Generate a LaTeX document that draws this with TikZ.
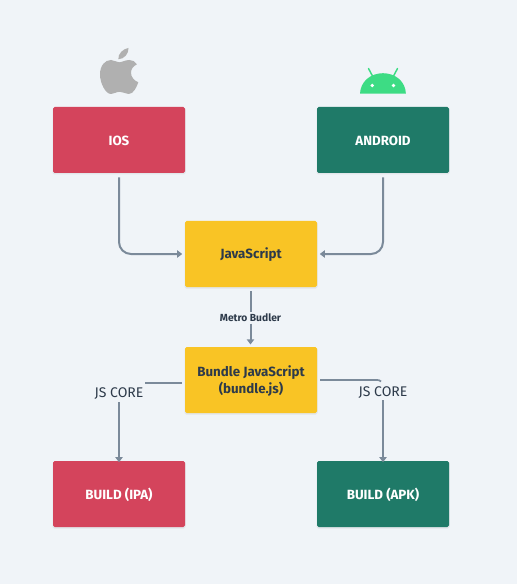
\documentclass[tikz,border=0pt]{standalone}
\usepackage{fontspec}
\setmainfont{Fira Sans}
\usetikzlibrary{arrows.meta,calc}
\definecolor{bgc}{HTML}{F0F4F8}
\definecolor{redc}{HTML}{D4445C}
\definecolor{greenc}{HTML}{1F7A68}
\definecolor{yellowc}{HTML}{F9C425}
\definecolor{inkc}{HTML}{2D3A4A}
\definecolor{linec}{HTML}{7B8A9A}
\definecolor{applec}{HTML}{B0B0B0}
\definecolor{droidc}{HTML}{3DDC84}
\definecolor{shadowc}{HTML}{E2E6EA}
\tikzset{
  flowbox/.style={minimum width=99pt,minimum height=49.5pt,inner sep=0pt,rounded corners=1.2pt},
  boxtext/.style={inner sep=0pt,align=center,yshift=-0.8pt,font=\fontsize{10}{13}\selectfont\bfseries},
  whitetext/.style={boxtext,text=white},
  inktext/.style={boxtext,text=inkc},
  redbox/.style={flowbox,fill=redc,label={[whitetext]center:#1}},
  greenbox/.style={flowbox,fill=greenc,label={[whitetext]center:#1}},
  yellowbox/.style={flowbox,fill=yellowc,label={[inktext]center:#1}},
  flow/.style={draw=linec,line width=1.5pt},
  flowtip/.style={flow,-{Triangle[length=3.8pt,width=5.4pt]}},
  corelabel/.style={font=\fontsize{10.5}{12}\selectfont,text=inkc,inner sep=0pt},
  metrolabel/.style={font=\fontsize{7.7}{9}\selectfont\bfseries,text=inkc,fill=bgc,inner sep=1pt},
  halo/.style={fill=shadowc,draw=none,rounded corners=1.2pt}
}
\begin{document}
\begin{tikzpicture}[x=0.75pt,y=-0.75pt]
\useasboundingbox[fill=bgc] (0,0) rectangle (517,584);
% soft box shadows
\foreach \xa/\ya in {53/107,317/107,185/221,185/347,53/461,317/461}
  \fill[halo] (\xa-0.5,\ya+1) rectangle (\xa+132.5,\ya+67.5);
% boxes
\node[redbox={IOS}]       (ios)     at (119,140) {};
\node[greenbox={ANDROID}] (android) at (383,140) {};
\node[yellowbox={JavaScript}] (js)  at (251,254) {};
\node[yellowbox={Bundle JavaScript\\(bundle.js)}] (bundle) at (251,380) {};
\node[redbox={BUILD (IPA)}]   (ipa) at (119,494) {};
\node[greenbox={BUILD (APK)}] (apk) at (383,494) {};
% labels
\node[metrolabel] (metro) at (250.5,318) {Metro Budler};
\node[corelabel] (coreL) at (119,393.5) {JS CORE};
\node[corelabel] (coreR) at (383,392.5) {JS CORE};
% connector ends
\coordinate (iosOut) at ($(ios.south)+(0,4)$);
\coordinate (jsInL) at ($(js.west)+(-2.5,0)$);
\coordinate (androidOut) at ($(android.south)+(0,4)$);
\coordinate (jsInR) at ($(js.east)+(2.5,0)$);
\coordinate (jsOut) at (250.5,291);
\coordinate (bundleIn) at (250.5,344.5);
\coordinate (bundleL) at (182,383);
\coordinate (coreLtop) at (145,383);
\coordinate (bundleR) at (320,380);
\coordinate (coreRtop) at (381,381.5);
\coordinate (coreLdown) at (119,402);
\coordinate (coreRdown) at (383,400);
\coordinate (ipaIn) at ($(ipa.north)+(0,1.5)$);
\coordinate (apkIn) at ($(apk.north)+(0,1.5)$);
% connectors
\draw[flowtip,rounded corners=9pt] (iosOut) |- (jsInL);
\draw[flowtip,rounded corners=9pt] (androidOut) |- (jsInR);
\draw[flow] (jsOut) -- (metro.north);
\draw[flowtip] (metro.south) -- (bundleIn);
\draw[flow] (bundleL) -- (coreLtop);
\draw[flow,line width=1.3pt] (bundleR) -- (377,380) .. controls (379,380) and (380,380.5) .. (coreRtop);
\draw[flowtip] (coreLdown) -- (ipaIn);
\draw[flowtip] (coreRdown) -- (apkIn);
% apple logo
\fill[applec] (119,62.3) .. controls (122,62.3) and (125,60) .. (129.5,60)
  .. controls (132.5,60) and (135.3,61.5) .. (136.9,64.3)
  .. controls (133,66.3) and (131,69) .. (131,72.8)
  .. controls (131,77) and (134,80.5) .. (138.3,82.3)
  .. controls (136.5,87.5) and (133.5,94) .. (128.5,94)
  .. controls (125.5,94) and (123.5,91.8) .. (119.8,91.8)
  .. controls (116,91.8) and (114,94) .. (111,94)
  .. controls (105.5,94) and (100,83) .. (100,74.5)
  .. controls (100,65.5) and (105,60) .. (111,60)
  .. controls (114,60) and (116.5,62.3) .. (119,62.3) -- cycle;
\fill[applec] (128.5,48) .. controls (128.8,53.5) and (124.5,59) .. (118.3,59.3)
  .. controls (118,53.5) and (123,48.8) .. (128.5,48) -- cycle;
% android logo
\fill[droidc] (360,93.7) .. controls (360.5,81.5) and (370.5,73.2) .. (383,73.2)
  .. controls (395.5,73.2) and (405.5,81.5) .. (405.9,93.7) -- cycle;
\draw[droidc,line width=1.1pt,line cap=round] (373,77) -- (368.5,68.5);
\draw[droidc,line width=1.1pt,line cap=round] (393,77) -- (397.5,68.5);
\fill[white] (372.3,85.5) circle (1.9);
\fill[white] (393.5,85.5) circle (1.9);
\end{tikzpicture}
\end{document}
